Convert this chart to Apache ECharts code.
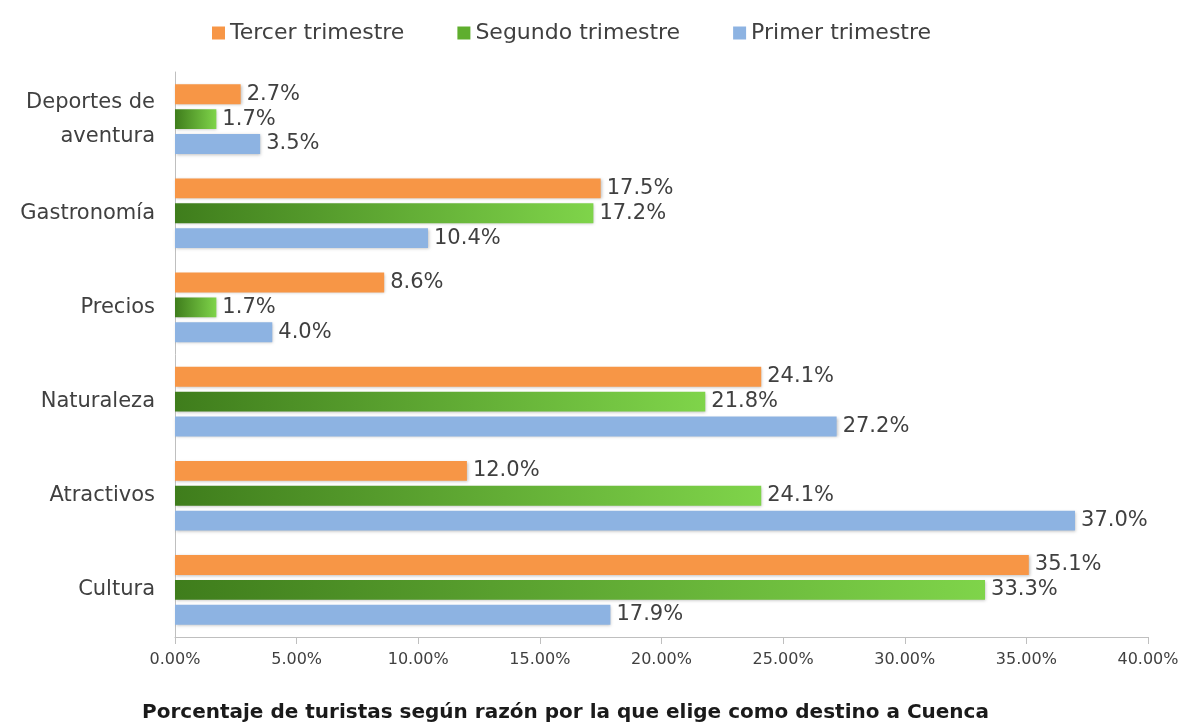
<!DOCTYPE html>
<html>
<head>
<meta charset="utf-8">
<script src="https://cdn.jsdelivr.net/npm/echarts@6/dist/echarts.min.js"></script>
<style>
  html, body { margin: 0; padding: 0; background: #fff; }
  #chart { width: 1179px; height: 722px; }
</style>
</head>
<body>
<div id="chart"></div>
<script>
// categories bottom -> top, as the value axis runs upward
const categories = ["Cultura", "Atractivos", "Naturaleza", "Precios", "Gastronomía", "Deportes de\naventura"];
const primer = [17.9, 37.0, 27.2, 4.0, 10.4, 3.5];
const segundo = [33.3, 24.1, 21.8, 1.7, 17.2, 1.7];
const tercer = [35.1, 12.0, 24.1, 8.6, 17.5, 2.7];
const xTicks = [0, 5, 10, 15, 20, 25, 30, 35, 40];

const FONT = "'DejaVu Sans', sans-serif";
const TEXT = "#404040";
const ORANGE = "#f79646";
const BLUE = "#8db3e2";
const GREEN_GRAD = new echarts.graphic.LinearGradient(0, 0, 1, 0, [
  { offset: 0, color: "#3f7d1c" },
  { offset: 1, color: "#7fd44a" },
]);

const barLabel = {
  show: true,
  position: "right",
  distance: 6,
  color: TEXT,
  fontFamily: FONT,
  fontSize: 21,
  formatter: (p) => `${p.value.toFixed(1)}%`,
};

const barSeries = (name, data, color) => ({
  name,
  type: "bar",
  data,
  barGap: "25%",
  barCategoryGap: "26%",
  itemStyle: { color, shadowColor: "rgba(0,0,0,.25)", shadowBlur: 3, shadowOffsetX: 1, shadowOffsetY: 1 },
  label: barLabel,
});

const chart = echarts.init(document.getElementById("chart"), null, { renderer: "canvas" });
chart.setOption({
  animation: false,
  textStyle: { fontFamily: FONT },
  legend: {
    top: 17,
    left: 207,
    itemGap: 53,
    itemWidth: 13,
    itemHeight: 13,
    icon: "rect",
    textStyle: { color: TEXT, fontSize: 22, fontFamily: FONT },
    data: [
      { name: "Tercer trimestre", itemStyle: { color: ORANGE } },
      { name: "Segundo trimestre", itemStyle: { color: "#5fae2e" } },
      { name: "Primer trimestre", itemStyle: { color: BLUE } },
    ],
  },
  grid: { left: 175, right: 31, top: 72, bottom: 85, outerBoundsMode: "none" },
  xAxis: {
    type: "value",
    min: xTicks[0],
    max: xTicks[xTicks.length - 1],
    interval: 5,
    name: "Porcentaje de turistas según razón por la que elige como destino a Cuenca",
    nameLocation: "middle",
    nameGap: 66,
    nameTextStyle: { color: "#1a1a1a", fontSize: 20, fontWeight: "bold", fontFamily: FONT, padding: [0, 192, 0, 0] },
    axisLine: { show: true, lineStyle: { color: "#bfbfbf" } },
    axisTick: { show: true, length: 7, lineStyle: { color: "#bfbfbf" } },
    splitLine: { show: false },
    axisLabel: { color: TEXT, fontSize: 16, margin: 15, fontFamily: FONT, formatter: (v) => `${v.toFixed(2)}%` },
  },
  yAxis: {
    type: "category",
    data: categories,
    axisLine: { show: true, lineStyle: { color: "#bfbfbf" } },
    axisTick: { show: false },
    axisLabel: { color: TEXT, fontSize: 21, margin: 20, lineHeight: 34, fontFamily: FONT },
  },
  series: [
    barSeries("Tercer trimestre", tercer, ORANGE),
    barSeries("Segundo trimestre", segundo, GREEN_GRAD),
    barSeries("Primer trimestre", primer, BLUE),
  ],
});
</script>
</body>
</html>
